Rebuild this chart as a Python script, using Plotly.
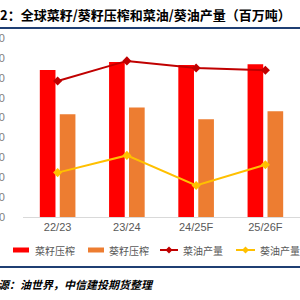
import plotly.graph_objects as go

categories = ["22/23", "23/24", "24/25F", "25/26F"]
rape_crush = [73.9, 77.9, 76.4, 76.8]
sun_crush = [51.7, 55.1, 49.2, 53.2]
rape_oil = [34.0, 36.8, 35.8, 35.5]
sun_oil = [21.2, 23.6, 19.4, 22.3]
y_ticks = [0, 10, 20, 30, 40, 50, 60, 70, 80, 90]

names = ["菜籽压榨", "葵籽压榨", "菜油产量", "葵油产量"]
colors = ["#FF0000", "#ED7D31", "#C00000", "#FFC000"]
title_text = "2：全球菜籽/葵籽压榨和菜油/葵油产量（百万吨）"
source_text = "源：油世界，中信建投期货整理"

# layout geometry (px)
W, H = 300, 300
ml, mr, mt, mb = 23, 0, 38, 83
pw = W - ml - mr
ph = H - mt - mb

def px_x(px):
    return (px - ml) / pw

def px_y(py):
    return (H - mb - py) / ph

cjk = "Noto Sans CJK SC"

fig = go.Figure()
fig.add_trace(go.Bar(x=categories, y=rape_crush, name=names[0],
                     marker=dict(color=colors[0], line=dict(width=0))))
fig.add_trace(go.Bar(x=categories, y=sun_crush, name=names[1],
                     marker=dict(color=colors[1], line=dict(width=0))))
fig.add_trace(go.Scatter(x=categories, y=rape_oil, name=names[2], yaxis="y2",
                         mode="lines+markers",
                         line=dict(color=colors[2], width=2),
                         marker=dict(symbol="diamond", size=7, color=colors[2])))
fig.add_trace(go.Scatter(x=categories, y=sun_oil, name=names[3], yaxis="y2",
                         mode="lines+markers",
                         line=dict(color=colors[3], width=2),
                         marker=dict(symbol="diamond", size=7, color=colors[3])))

# legend drawn as shapes + text (compact Excel-like legend)
leg_y = 250
leg_items = [  # (kind, symbol x0, symbol x1, text x)
    ("bar", 13, 29, 33),
    ("bar", 88, 104, 107),
    ("line", 160, 178, 181),
    ("line", 236, 255, 258),
]
shapes = [
    dict(type="line", xref="paper", yref="paper", x0=px_x(0), x1=px_x(300),
         y0=px_y(28), y1=px_y(28), line=dict(color="#1F3F73", width=2)),
    dict(type="line", xref="paper", yref="paper", x0=px_x(0), x1=px_x(300),
         y0=px_y(267), y1=px_y(267), line=dict(color="#1F3F73", width=2)),
]
annotations = [
    dict(text="<b><i>" + source_text + "</i></b>", xref="paper", yref="paper",
         x=px_x(-4), y=px_y(284), xanchor="left", yanchor="middle",
         showarrow=False, font=dict(family=cjk, size=11, color="#000000")),
]
for (kind, sx0, sx1, tx), name, col in zip(leg_items, names, colors):
    if kind == "bar":
        shapes.append(dict(type="rect", xref="paper", yref="paper",
                           x0=px_x(sx0), x1=px_x(sx1), y0=px_y(leg_y + 2.5), y1=px_y(leg_y - 2.5),
                           fillcolor=col, line=dict(width=0)))
    else:
        shapes.append(dict(type="line", xref="paper", yref="paper",
                           x0=px_x(sx0), x1=px_x(sx1), y0=px_y(leg_y), y1=px_y(leg_y),
                           line=dict(color=col, width=2)))
        cx = (sx0 + sx1) / 2
        d = 3.5
        path = "M {},{} L {},{} L {},{} L {},{} Z".format(
            px_x(cx), px_y(leg_y - d), px_x(cx + d), px_y(leg_y),
            px_x(cx), px_y(leg_y + d), px_x(cx - d), px_y(leg_y))
        shapes.append(dict(type="path", xref="paper", yref="paper", path=path,
                           fillcolor=col, line=dict(color=col, width=0)))
    annotations.append(dict(text=name, xref="paper", yref="paper", x=px_x(tx), y=px_y(leg_y),
                            xanchor="left", yanchor="middle", showarrow=False,
                            font=dict(family=cjk, size=10, color="#595959")))

fig.update_layout(
    width=W, height=H,
    margin=dict(l=ml, r=mr, t=mt, b=mb, autoexpand=False),
    paper_bgcolor="white", plot_bgcolor="white",
    barmode="group", bargap=0.424, bargroupgap=0.215,
    font=dict(family=cjk, color="#595959"),
    title=dict(text="<b>" + title_text + "</b>", x=0, xref="container",
               xanchor="left", y=1 - 15 / H, yref="container", yanchor="middle",
               font=dict(family=cjk, size=13, color="#000000"), pad=dict(l=0, t=0)),
    xaxis=dict(type="category", showline=True, linecolor="#D9D9D9", linewidth=1,
               showgrid=False, ticks="", zeroline=False,
               tickfont=dict(family="Liberation Sans", size=11, color="#595959"),
               ticklabelstandoff=0),
    yaxis=dict(range=[0, 90], tickvals=y_ticks, showgrid=False, zeroline=False,
               showline=False, ticks="", automargin=False,
               tickfont=dict(family="Liberation Sans", size=11, color="#808080"),
               ticklabelstandoff=17),
    yaxis2=dict(range=[15, 40], overlaying="y", side="right", showgrid=False,
                showticklabels=False, zeroline=False, showline=False, ticks=""),
    showlegend=False,
    shapes=shapes,
    annotations=annotations,
)

fig.write_html("out.html")
